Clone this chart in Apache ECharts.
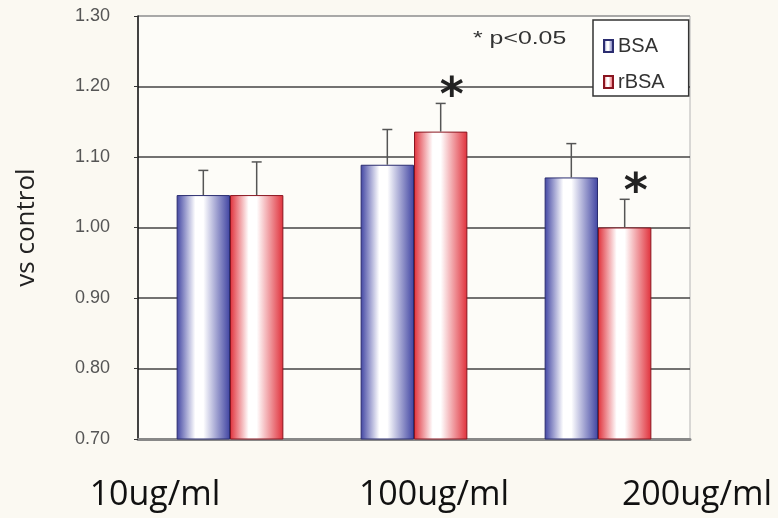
<!DOCTYPE html>
<html>
<head>
<meta charset="utf-8">
<script src="https://cdn.jsdelivr.net/npm/echarts@6/dist/echarts.min.js"></script>
<style>
  html, body { margin: 0; padding: 0; background: #fbf9f2; }
  #main { width: 778px; height: 518px; }
</style>
</head>
<body>
<div id="main"></div>
<script>
// 数据
var categories = ['10ug/ml', '100ug/ml', '200ug/ml'];
var bsaValues = [1.046, 1.089, 1.071];
var bsaErrTop = [1.081, 1.139, 1.119];
var rbsaValues = [1.046, 1.136, 1.000];
var rbsaErrTop = [1.093, 1.176, 1.040];
var rbsaSignificant = [false, true, true];
var yTicks = [0.70, 0.80, 0.90, 1.00, 1.10, 1.20, 1.30];

var chart = echarts.init(document.getElementById('main'));

// 条形的水平渐变
function stripe(c) {
  return new echarts.graphic.LinearGradient(0, 0, 1, 0, [
    { offset: 0, color: c },
    { offset: 0.35, color: '#ffffff' },
    { offset: 0.5, color: '#ffffff' },
    { offset: 1, color: c }
  ]);
}

var catGap = 0.42;

// 误差线 (只向上) + 星号
function errorSeries(name, values, tops, side, stars) {
  return {
    type: 'custom',
    name: name + '_err',
    z: 5,
    silent: true,
    data: values.map(function (v, i) { return [i, v, tops[i], stars ? (stars[i] ? 1 : 0) : 0]; }),
    renderItem: function (params, api) {
      var band = api.size([1, 0])[0];
      var off = side * band * (1 - catGap) / 4;
      var base = api.coord([api.value(0), api.value(1)]);
      var top = api.coord([api.value(0), api.value(2)]);
      var x = base[0] + off;
      var children = [
        { type: 'line', shape: { x1: x, y1: base[1], x2: x, y2: top[1] }, style: { stroke: '#555', lineWidth: 1.5 } },
        { type: 'line', shape: { x1: x - 5, y1: top[1], x2: x + 5, y2: top[1] }, style: { stroke: '#555', lineWidth: 1.5 } }
      ];
      if (api.value(3)) {
        children.push({
          type: 'text',
          x: x + 11, y: top[1] - 5,
          style: { text: '*', fontSize: 46, fontWeight: 'bold', fontFamily: 'DejaVu Sans', fill: '#222', align: 'center', verticalAlign: 'middle' }
        });
      }
      return { type: 'group', children: children };
    }
  };
}

var labelRich = {
  l0: { fontSize: 34, color: '#111', fontFamily: 'Open Sans', padding: [0, 150, 0, 0] },
  l1: { fontSize: 34, color: '#111', fontFamily: 'Open Sans', padding: [0, 0, 0, 40] },
  l2: { fontSize: 34, color: '#111', fontFamily: 'Open Sans', padding: [0, 0, 0, 198] }
};

var option = {
  backgroundColor: '#fbf9f2',
  animation: false,
  grid: { left: 138, right: 88, top: 16, bottom: 79, show: true, backgroundColor: '#fdfcf8', borderColor: '#b5b5b5', borderWidth: 1 },
  legend: {
    orient: 'vertical',
    left: 593,
    top: 20,
    padding: [16, 24, 4, 10],
    itemGap: 16,
    itemWidth: 9,
    itemHeight: 12,
    icon: 'rect',
    backgroundColor: '#ffffff',
    borderColor: '#333',
    borderWidth: 1.5,
    data: ['BSA', 'rBSA'],
    textStyle: { fontSize: 20, color: '#333', fontFamily: 'Liberation Sans' }
  },
  xAxis: {
    type: 'category',
    data: categories,
    axisLine: { lineStyle: { color: '#888', width: 3 } },
    axisTick: { inside: true, length: 6, lineStyle: { color: '#333' } },
    axisLabel: {
      margin: 39,
      formatter: function (v, i) { return '{l' + i + '|' + v + '}'; },
      rich: labelRich
    }
  },
  yAxis: {
    type: 'value',
    min: 0.7,
    max: 1.3,
    interval: 0.1,
    name: 'vs control',
    nameLocation: 'middle',
    nameGap: 98,
    nameTextStyle: { fontSize: 26, color: '#222', fontFamily: 'Open Sans' },
    axisLine: { show: true, lineStyle: { color: '#111', width: 1.5 } },
    axisTick: { show: true, length: 4, lineStyle: { color: '#333' } },
    axisLabel: {
      margin: 28,
      fontSize: 18,
      color: '#555',
      fontFamily: 'Liberation Sans',
      formatter: function (v) { return v.toFixed(2); }
    },
    splitLine: { lineStyle: { color: ['#444', '#444', '#444', '#444', '#444', '#444', '#999'], width: 1.5 } }
  },
  series: [
    {
      name: 'BSA',
      type: 'bar',
      data: bsaValues,
      barGap: '0%',
      barCategoryGap: (catGap * 100) + '%',
      itemStyle: { color: stripe('#4044a2'), borderColor: '#2b2d70', borderWidth: 1 }
    },
    {
      name: 'rBSA',
      type: 'bar',
      data: rbsaValues,
      itemStyle: { color: stripe('#e0303a'), borderColor: '#8a1520', borderWidth: 1 }
    },
    errorSeries('BSA', bsaValues, bsaErrTop, -1, null),
    errorSeries('rBSA', rbsaValues, rbsaErrTop, 1, rbsaSignificant)
  ],
  graphic: [
    {
      type: 'text',
      x: 473,
      y: 30,
      scaleX: 1.38,
      style: { text: '* p<0.05', fontSize: 18, fill: '#333', fontFamily: 'Liberation Sans' }
    }
  ]
};

chart.setOption(option);
</script>
</body>
</html>
